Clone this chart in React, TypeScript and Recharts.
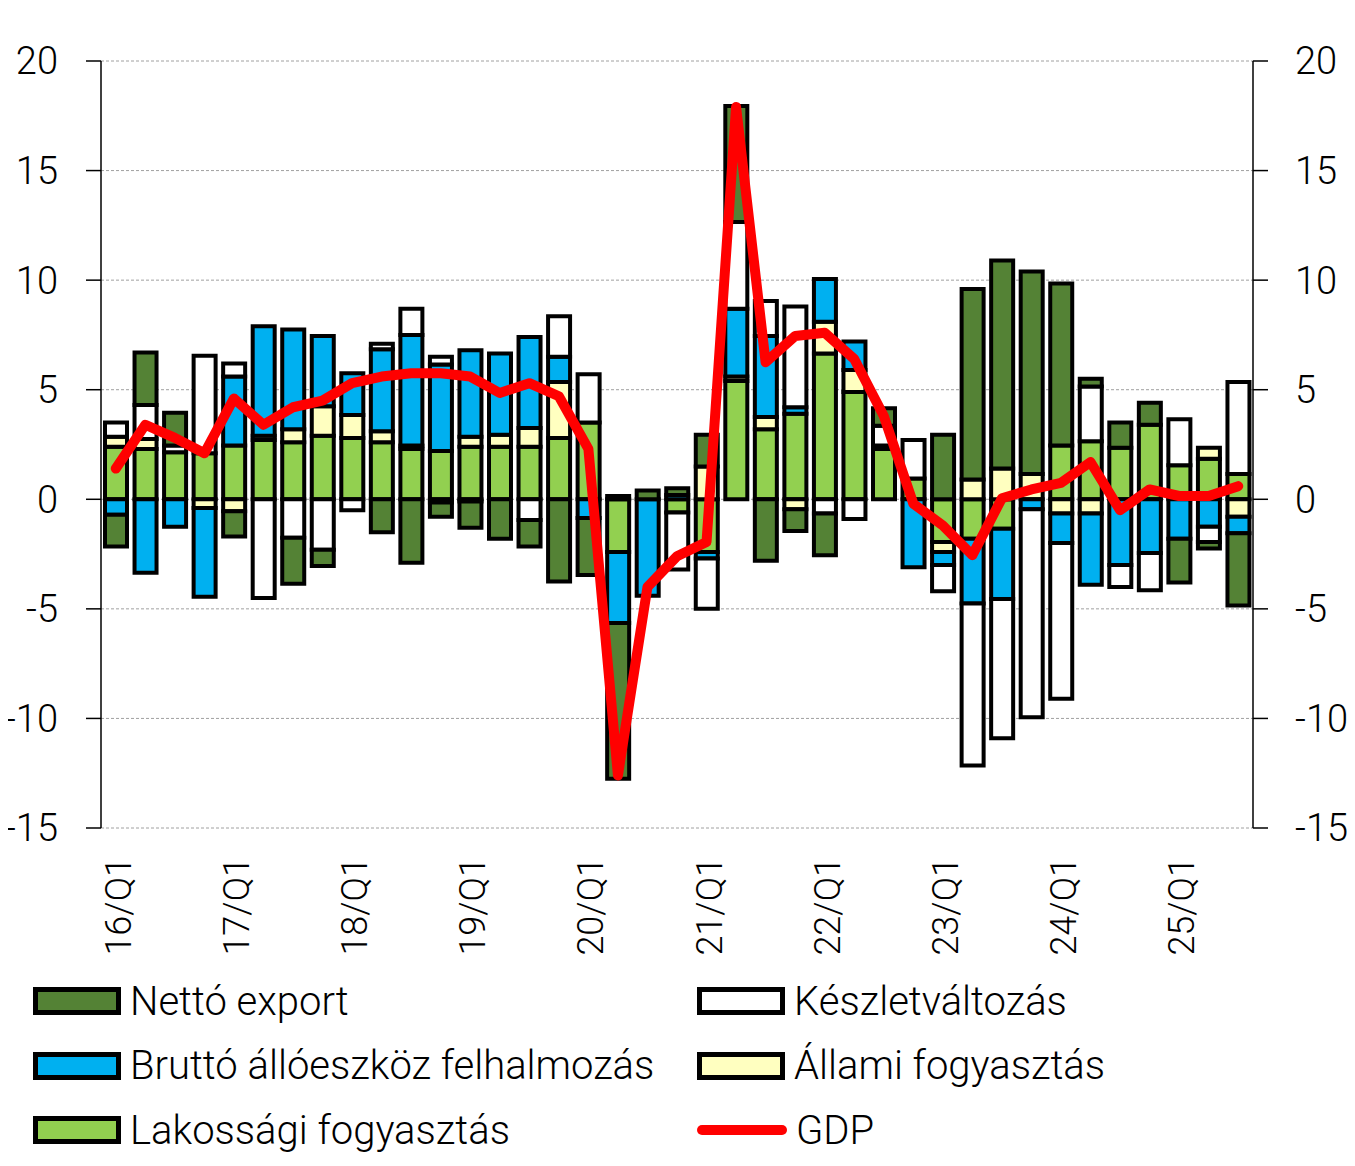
import React from "react";
import {
  ComposedChart,
  Bar,
  Line,
  XAxis,
  YAxis,
  CartesianGrid,
} from "recharts";

const quarters = [
  "16/Q1", "16/Q2", "16/Q3", "16/Q4",
  "17/Q1", "17/Q2", "17/Q3", "17/Q4",
  "18/Q1", "18/Q2", "18/Q3", "18/Q4",
  "19/Q1", "19/Q2", "19/Q3", "19/Q4",
  "20/Q1", "20/Q2", "20/Q3", "20/Q4",
  "21/Q1", "21/Q2", "21/Q3", "21/Q4",
  "22/Q1", "22/Q2", "22/Q3", "22/Q4",
  "23/Q1", "23/Q2", "23/Q3", "23/Q4",
  "24/Q1", "24/Q2", "24/Q3", "24/Q4",
  "25/Q1", "25/Q2", "25/Q3",
];

// hozzájárulás a GDP növekedéséhez, százalékpont
const lakossagi = [
  2.4, 2.3, 2.15, 2.1, 2.45, 2.7, 2.6, 2.9, 2.8, 2.6, 2.3, 2.2, 2.4, 2.4, 2.4, 2.8,
  3.5, -2.4, 0, -0.6, -2.4, 5.4, 3.2, 3.9, 6.65, 4.9, 2.3, 0.95, -1.95, -1.8, -1.35, 0,
  2.45, 2.65, 2.35, 3.4, 1.55, 1.85, 1.15,
];
const allami = [
  0.45, 0.45, 0, -0.4, -0.55, 0.2, 0.6, 1.35, 1.05, 0.5, 0.15, -0.15, 0.45, 0.55, 0.85, 2.55,
  0, 0.15, 0, 0, 1.5, 0.2, 0.55, -0.45, 1.45, 1.0, 0.15, 0, -0.45, 0.9, 1.4, 1.15,
  -0.65, -0.65, 0, 0, 0, 0.5, -0.8,
];
const brutto = [
  -0.7, -3.35, -1.25, -4.05, 3.15, 5.0, 4.55, 3.2, 1.9, 3.75, 5.05, 3.95, 3.95, 3.7, 4.15, 1.15,
  -0.85, -3.25, -4.4, 0.2, -0.3, 3.1, 3.7, 0.3, 1.95, 1.3, 0, -3.1, -0.6, -2.95, -3.2, -0.45,
  -1.35, -3.25, -3.0, -2.45, -1.8, -1.25, -0.75,
];
const keszlet = [
  0.65, 1.55, 0.3, 4.45, 0.6, -4.5, -1.75, -2.3, -0.5, 0.25, 1.2, 0.35, -0.1, 0, -0.95, 1.85,
  2.2, 0, 0, -2.6, -2.3, 3.95, 1.6, 4.6, -0.65, -0.9, 0.9, 1.75, -1.2, -7.4, -6.35, -9.5,
  -7.1, 2.5, -1.0, -1.7, 2.1, -0.7, 4.2,
];
const netto = [
  -1.45, 2.4, 1.5, 0, -1.15, 0, -2.1, -0.75, 0, -1.5, -2.9, -0.65, -1.2, -1.8, -1.2, -3.75,
  -2.6, -7.1, 0.4, 0.3, 1.45, 5.3, -2.8, -1.0, -1.9, 0, 0.8, 0, 2.95, 8.7, 9.5, 9.25,
  7.4, 0.35, 1.15, 1.0, -2.0, -0.3, -3.3,
];
const gdp = [
  1.4, 3.4, 2.8, 2.1, 4.6, 3.4, 4.2, 4.5, 5.3, 5.6, 5.75, 5.75, 5.6, 4.85, 5.3, 4.7,
  2.3, -12.6, -4.0, -2.6, -1.95, 17.9, 6.25, 7.45, 7.6, 6.4, 3.8, -0.2, -1.2, -2.55, 0.05, 0.45,
  0.75, 1.7, -0.5, 0.45, 0.15, 0.15, 0.6,
];

const yTicks = [-15, -10, -5, 0, 5, 10, 15, 20];

const FONT = "Roboto, 'Noto Sans', sans-serif";

const data = quarters.map((q, i) => ({
  q,
  lakossagi: lakossagi[i],
  allami: allami[i],
  brutto: brutto[i],
  keszlet: keszlet[i],
  netto: netto[i],
  gdp: gdp[i],
}));

const q1Ticks = quarters.filter((q) => q.endsWith("Q1"));

function XTick(props: any) {
  const { x, y, payload } = props;
  const tx = x + 15;
  return (
    <text
      x={tx}
      y={y}
      transform={`rotate(-90, ${tx}, ${y})`}
      textAnchor="end"
      fontSize={36}
      fontWeight={300}
      fontFamily={FONT}
      fill="#000"
    >
      {payload.value}
    </text>
  );
}

const legendLeft = [
  { name: "Nettó export", color: "#548235" },
  { name: "Bruttó állóeszköz felhalmozás", color: "#00b0f0" },
  { name: "Lakossági fogyasztás", color: "#92d050" },
];
const legendRight = [
  { name: "Készletváltozás", color: "#ffffff" },
  { name: "Állami fogyasztás", color: "#ffffc0" },
  { name: "GDP", color: "#ff0000", line: true },
];

function LegendItem({ item, left, top }: any) {
  return (
    <div
      style={{
        position: "absolute",
        left,
        top,
        height: 50,
        display: "flex",
        alignItems: "center",
        fontFamily: FONT,
        fontWeight: 300,
        fontSize: 40,
        color: "#000",
        whiteSpace: "nowrap",
      }}
    >
      {item.line ? (
        <div style={{ width: 90, height: 10, background: item.color, borderRadius: 5 }} />
      ) : (
        <div
          style={{
            width: 88,
            height: 28,
            boxSizing: "border-box",
            border: "5px solid #000",
            background: item.color,
          }}
        />
      )}
      <span style={{ marginLeft: 9 }}>{item.name}</span>
    </div>
  );
}

export default function App() {
  const axisTick = { fontSize: 38, fontWeight: 300, fontFamily: FONT, fill: "#000" };
  return (
    <div style={{ position: "relative", width: 1347, height: 1150, marginLeft: -8, background: "#fff" }}>
      <ComposedChart
        width={1347}
        height={960}
        data={data}
        stackOffset="sign"
        margin={{ top: 53, right: 0, bottom: 0, left: 8 }}
      >
        <CartesianGrid
          yAxisId="left"
          vertical={false}
          stroke="#a0a0a0"
          strokeDasharray="3 2"
        />
        <XAxis
          dataKey="q"
          ticks={q1Ticks}
          interval={0}
          tick={<XTick />}
          tickLine={false}
          axisLine={false}
          tickSize={0}
          tickMargin={29}
          height={140}
        />
        <YAxis
          yAxisId="left"
          domain={[-15, 20]}
          ticks={yTicks}
          width={93}
          tickSize={15}
          tickMargin={28}
          axisLine={{ stroke: "#000", strokeWidth: 1.5 }}
          tickLine={{ stroke: "#000", strokeWidth: 1.5 }}
          tick={axisTick}
          allowDataOverflow
        />
        <YAxis
          yAxisId="right"
          orientation="right"
          domain={[-15, 20]}
          ticks={yTicks}
          width={94}
          tickSize={15}
          tickMargin={27}
          axisLine={{ stroke: "#000", strokeWidth: 1.5 }}
          tickLine={{ stroke: "#000", strokeWidth: 1.5 }}
          tick={axisTick}
          allowDataOverflow
        />
        <Bar yAxisId="left" dataKey="lakossagi" stackId="a" fill="#92d050" stroke="#000" strokeWidth={4} barSize={22} isAnimationActive={false} />
        <Bar yAxisId="left" dataKey="allami" stackId="a" fill="#ffffc0" stroke="#000" strokeWidth={4} barSize={22} isAnimationActive={false} />
        <Bar yAxisId="left" dataKey="brutto" stackId="a" fill="#00b0f0" stroke="#000" strokeWidth={4} barSize={22} isAnimationActive={false} />
        <Bar yAxisId="left" dataKey="keszlet" stackId="a" fill="#ffffff" stroke="#000" strokeWidth={4} barSize={22} isAnimationActive={false} />
        <Bar yAxisId="left" dataKey="netto" stackId="a" fill="#548235" stroke="#000" strokeWidth={4} barSize={22} isAnimationActive={false} />
        <Line
          yAxisId="left"
          dataKey="gdp"
          type="linear"
          stroke="#ff0000"
          strokeWidth={10}
          strokeLinejoin="round"
          strokeLinecap="round"
          dot={false}
          activeDot={false}
          isAnimationActive={false}
        />
      </ComposedChart>
      {legendLeft.map((item, i) => (
        <LegendItem key={item.name} item={item} left={33} top={968 + i * 64.5} />
      ))}
      {legendRight.map((item, i) => (
        <LegendItem key={item.name} item={item} left={697} top={968 + i * 64.5} />
      ))}
    </div>
  );
}
